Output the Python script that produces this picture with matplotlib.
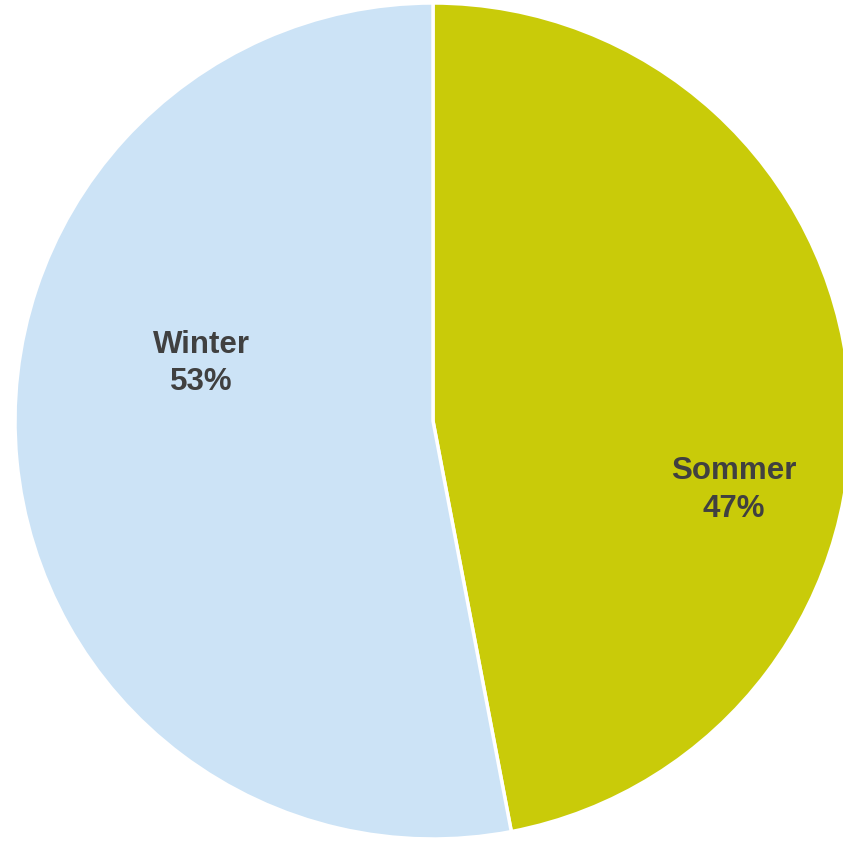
import matplotlib.pyplot as plt

seasons = ['Sommer', 'Winter']
shares = [47, 53]
colors = ['#C9CB09', '#CCE3F6']

# label anchor points in pie units (x, y)
label_pos = [(0.72, -0.165), (-0.555, 0.137)]

fig = plt.figure(figsize=(8.43, 8.41), dpi=100)
ax = fig.add_axes([15 / 843, 2 / 841, 836 / 843, 836 / 841])

ax.pie(shares, colors=colors, startangle=90, counterclock=False,
       wedgeprops=dict(edgecolor='white', linewidth=2.5))

for name, val, (x, y) in zip(seasons, shares, label_pos):
    ax.text(x, y, f'{name}\n{val}%', ha='center', va='center',
            fontsize=22.5, fontweight='bold', color='#404040',
            family=['Liberation Sans', 'DejaVu Sans'], linespacing=1.32)

ax.set_xlim(-1, 1)
ax.set_ylim(-1, 1)
ax.set_aspect('equal')
ax.axis('off')

fig.savefig('out.png', dpi=100)
